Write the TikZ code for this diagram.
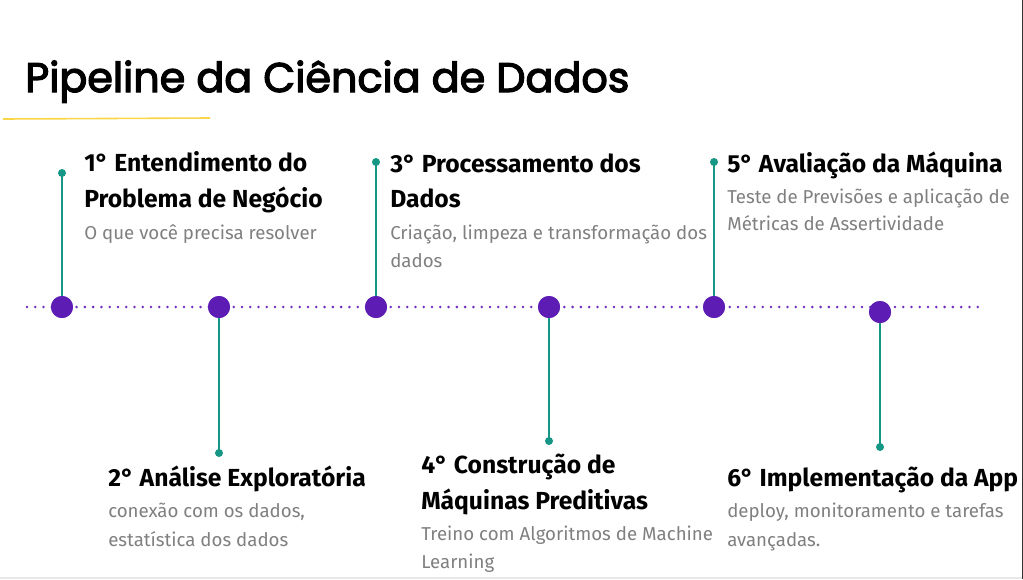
\documentclass[tikz,border=0pt]{standalone}
\usepackage{fontspec}
\setmainfont{Fira Sans}
\newfontfamily\titlefont[FakeBold=3]{Poppins}
\definecolor{hubpurple}{RGB}{93,29,181}
\definecolor{dotpurple}{RGB}{112,48,190}
\definecolor{stemteal}{RGB}{22,150,132}
\definecolor{subgray}{RGB}{128,128,128}
\definecolor{ruleyellow}{RGB}{248,214,72}
\definecolor{bandgray}{RGB}{232,232,232}
\definecolor{edgedark}{RGB}{50,50,50}
\begin{document}
\begin{tikzpicture}[x=0.75pt,y=-0.75pt,
  hub/.style={circle,fill=hubpurple,minimum size=16.5pt,inner sep=0pt},
  tipdot/.style={circle,fill=stemteal,minimum size=6pt,inner sep=0pt},
  stem/.style={draw=stemteal,line width=1.6pt},
  head/.style={anchor=base west,inner sep=0pt,font=\bfseries\fontsize{18.5}{22}\selectfont},
  sub/.style={anchor=base west,inner sep=0pt,text=subgray,font=\fontsize{14}{18}\selectfont},
  timeline/.style={draw=dotpurple,line width=2.1pt,dash pattern=on 0pt off 6.2pt,line cap=round},
]
\useasboundingbox (0,0) rectangle (1023,579);
\fill[white] (0,0) rectangle (1023,579);
\begin{scope}
\clip (0,0) rectangle (1021,577);
% title
\node[anchor=base west,inner sep=0pt,font=\titlefont\fontsize{31}{36}\selectfont] (title) at (25,92) {Pipeline da Ciência de Dados};
\coordinate (ruleA) at (3,119);
\coordinate (ruleB) at (210,118);
\draw[ruleyellow,line width=1.2pt] (ruleA) -- (ruleB);
% timeline
\coordinate (lineA) at (27,307);
\coordinate (lineB) at (980,307);
\draw[timeline] (lineA) -- (lineB);
% stem ends
\node[tipdot] (t1) at (62,173) {};
\node[tipdot] (t2) at (219,453) {};
\node[tipdot] (t3) at (376,162) {};
\node[tipdot] (t4) at (549,441) {};
\node[tipdot] (t5) at (714,162) {};
\node[tipdot] (t6) at (880,447) {};
% hubs
\node[hub] (c1) at (62,307) {};
\node[hub] (c2) at (219,307) {};
\node[hub] (c3) at (376,307) {};
\node[hub] (c4) at (549,307) {};
\node[hub] (c5) at (714,307) {};
\node[hub] (c6) at (880,312) {};
\draw[stem] (t1.center) -- (c1.center);
\draw[stem] (c2.center) -- (t2.center);
\draw[stem] (t3.center) -- (c3.center);
\draw[stem] (c4.center) -- (t4.center);
\draw[stem] (t5.center) -- (c5.center);
\draw[stem] (c6.center) -- (t6.center);
\foreach \n in {1,...,6}{\node[hub] at (c\n) {};}
% texts
\node[head] (h1a) at (84,171) {1° Entendimento do};
\node[head] (h1b) at (84,207) {Problema de Negócio};
\node[sub] (s1a) at (84,239) {O que você precisa resolver};
\node[head] (h2a) at (108,486) {2° Análise Exploratória};
\node[sub] (s2a) at (108,517) {conexão com os dados,};
\node[sub] (s2b) at (108,546) {estatística dos dados};
\node[head] (h3a) at (390,172) {3° Processamento dos};
\node[head] (h3b) at (390,207) {Dados};
\node[sub] (s3a) at (390,239) {Criação, limpeza e transformação dos};
\node[sub] (s3b) at (390,267) {dados};
\node[head] (h4a) at (421,473) {4° Construção de};
\node[head] (h4b) at (421,509) {Máquinas Preditivas};
\node[sub] (s4a) at (421,540) {Treino com Algoritmos de Machine};
\node[sub] (s4b) at (421,568) {Learning};
\node[head] (h5a) at (727,172) {5° Avaliação da Máquina};
\node[sub] (s5a) at (727,203) {Teste de Previsões e aplicação de};
\node[sub] (s5b) at (727,230) {Métricas de Assertividade};
\node[head] (h6a) at (727,486) {6° Implementação da App};
\node[sub] (s6a) at (727,517) {deploy, monitoramento e tarefas};
\node[sub] (s6b) at (727,546) {avançadas.};
\end{scope}
\fill[bandgray] (0,577) rectangle (1022,579);
\fill[edgedark] (1022,0) rectangle (1023,579);
\end{tikzpicture}
\end{document}
